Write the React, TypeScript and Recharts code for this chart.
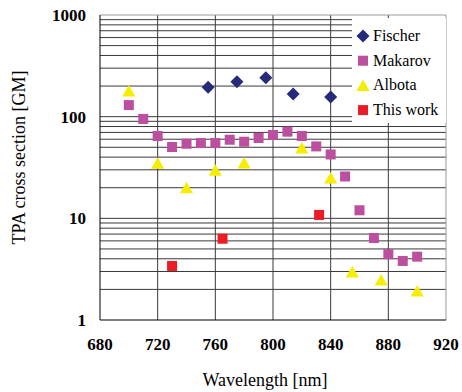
import React from 'react';
import { ScatterChart, Scatter, XAxis, YAxis, ReferenceLine, Legend, Label } from 'recharts';

const FONT = 'Liberation Serif';

const xTicks = [680, 720, 760, 800, 840, 880, 920];
const yTicks = [1, 10, 100, 1000];
const horizontalGrid = [2, 3, 4, 5, 6, 7, 8, 9, 10, 20, 30, 40, 50, 60, 70, 80, 90, 100, 200, 300, 400, 500, 600, 700, 800, 900];
const verticalGrid = [720, 760, 800, 840, 880];

const seriesNames = ['Fischer', 'Makarov', 'Albota', 'This work'];
const seriesColors = ['#252A7A', '#BC4F9F', '#F5EE00', '#EC1C24'];
const seriesTypes = ['diamond', 'square', 'triangle', 'square'];

const fischerNm = [755, 775, 795, 814, 840];
const fischerGM = [195, 221, 242, 167, 156];

const makarovNm = [700, 710, 720, 730, 740, 750, 760, 770, 780, 790, 800, 810, 820, 830, 840, 850, 860, 870, 880, 890, 900];
const makarovGM = [130, 95, 64.5, 50.3, 54.2, 55, 55, 59.3, 56.7, 61.7, 66, 71.2, 64.5, 51, 42.5, 25.8, 12.0, 6.4, 4.44, 3.81, 4.2];

const albotaNm = [700, 720, 740, 760, 780, 820, 840, 855, 875, 900];
const albotaGM = [179, 34.8, 20, 29.7, 35, 49.2, 25, 2.97, 2.48, 1.93];

const thisWorkNm = [730, 765, 832];
const thisWorkGM = [3.4, 6.3, 10.8];

const toPoints = (xs: number[], ys: number[]) => xs.map((x, i) => ({ x, y: ys[i] }));

const fischerData = toPoints(fischerNm, fischerGM);
const makarovData = toPoints(makarovNm, makarovGM);
const albotaData = toPoints(albotaNm, albotaGM);
const thisWorkData = toPoints(thisWorkNm, thisWorkGM);

function drawMarker(type: string, cx: number, cy: number, fill: string, key?: string) {
  if (type === 'diamond') {
    const r = 6.5;
    return <polygon key={key} points={`${cx},${cy - r} ${cx + r},${cy} ${cx},${cy + r} ${cx - r},${cy}`} fill={fill} />;
  }
  if (type === 'triangle') {
    return <polygon key={key} points={`${cx},${cy - 6} ${cx + 6.5},${cy + 5.5} ${cx - 6.5},${cy + 5.5}`} fill={fill} />;
  }
  return <rect key={key} x={cx - 5} y={cy - 5} width={10} height={10} fill={fill} />;
}

const makeShape = (type: string, fill: string) => (props: any) => {
  if (props.cx == null || props.cy == null) return <g />;
  return drawMarker(type, props.cx, props.cy, fill);
};

const LegendBox = (props: any) => {
  const payload = [...(props.payload || [])].sort(
    (a: any, b: any) => seriesNames.indexOf(a.value) - seriesNames.indexOf(b.value)
  );
  return (
    <svg width={94} height={105} style={{ display: 'block' }}>
      <rect x={0} y={0} width={94} height={105} fill="#fff" stroke="none" />
      {payload.map((entry: any, i: number) => {
        const idx = seriesNames.indexOf(entry.value);
        const type = idx >= 0 ? seriesTypes[idx] : entry.type;
        const color = idx >= 0 ? seriesColors[idx] : entry.color;
        const cy = 18 + i * 24.7;
        return (
          <g key={entry.value}>
            {drawMarker(type, 11, cy, color)}
            <text x={21} y={cy + 5} fontFamily={FONT} fontSize={16} style={{ fontFamily: FONT, fontSize: 16 }} fill="#000">
              {entry.value}
            </text>
          </g>
        );
      })}
    </svg>
  );
};

const YTitle = (props: any) => {
  const vb = props.viewBox || { x: 0, y: 15, width: 100, height: 305 };
  const cx = vb.x + 19;
  const cy = vb.y + vb.height / 2 - 10;
  return (
    <text
      x={cx}
      y={cy}
      transform={`rotate(-90, ${cx}, ${cy})`}
      textAnchor="middle"
      dominantBaseline="central"
      fontFamily={FONT}
      fontSize={18}
      style={{ fontFamily: FONT, fontSize: 18 }}
      fill="#000"
    >
      TPA cross section [GM]
    </text>
  );
};

const XTitle = (props: any) => {
  const vb = props.viewBox || { x: 100, y: 320, width: 346, height: 72 };
  const cx = vb.x + vb.width / 2 - 8;
  const y = vb.y + 66;
  return (
    <text x={cx} y={y} textAnchor="middle" fontFamily={FONT} fontSize={18} style={{ fontFamily: FONT, fontSize: 18 }} fill="#000">
      Wavelength [nm]
    </text>
  );
};

const XTick = (props: any) => {
  const { x, y, payload } = props;
  return (
    <text x={x} y={y + 30} textAnchor="middle" fontFamily={FONT} fontSize={17} fontWeight="bold" style={{ fontFamily: FONT, fontSize: 17, fontWeight: 700 }} fill="#000">
      {payload.value}
    </text>
  );
};

const YTick = (props: any) => {
  const { x, y, payload } = props;
  return (
    <text x={x} y={y + 6} textAnchor="end" fontFamily={FONT} fontSize={17} fontWeight="bold" style={{ fontFamily: FONT, fontSize: 17, fontWeight: 700 }} fill="#000">
      {payload.value}
    </text>
  );
};

export default function App() {
  return (
    <div style={{ position: 'absolute', left: 0, top: 0, background: '#fff', fontFamily: FONT }}>
      <ScatterChart width={462} height={392} margin={{ top: 15, right: 16, bottom: 0, left: 0 }} style={{ fontFamily: FONT }}>
        <XAxis
          type="number"
          dataKey="x"
          domain={[680, 920]}
          ticks={xTicks}
          allowDataOverflow
          height={72}
          tickLine={false}
          tickSize={0}
          tickMargin={0}
          axisLine={{ stroke: '#000', strokeWidth: 1 }}
          tick={XTick}
          interval={0}
        >
          <Label content={XTitle} />
        </XAxis>
        <YAxis
          type="number"
          dataKey="y"
          scale="log"
          domain={[1, 1000]}
          ticks={yTicks}
          allowDataOverflow
          width={100}
          tickLine={false}
          tickSize={0}
          tickMargin={14}
          axisLine={{ stroke: '#000', strokeWidth: 1 }}
          tick={YTick}
          interval={0}
        >
          <Label content={YTitle} />
        </YAxis>
        {horizontalGrid.map((v) => (
          <ReferenceLine key={`h${v}`} y={v} stroke="#3a3a3a" strokeWidth={1} />
        ))}
        {verticalGrid.map((v) => (
          <ReferenceLine key={`v${v}`} x={v} stroke="#3a3a3a" strokeWidth={1} />
        ))}
        <ReferenceLine y={1000} stroke="#9a9a9a" strokeWidth={1} />
        <ReferenceLine x={920} stroke="#9a9a9a" strokeWidth={1} />
        <Legend
          layout="vertical"
          align="center"
          verticalAlign="middle"
          content={LegendBox}
          wrapperStyle={{ left: 352, top: 18, width: 94, height: 105 }}
        />
        <Scatter name={seriesNames[0]} data={fischerData} fill={seriesColors[0]} legendType="diamond" shape={makeShape('diamond', seriesColors[0])} isAnimationActive={false} />
        <Scatter name={seriesNames[1]} data={makarovData} fill={seriesColors[1]} legendType="square" shape={makeShape('square', seriesColors[1])} isAnimationActive={false} />
        <Scatter name={seriesNames[2]} data={albotaData} fill={seriesColors[2]} legendType="triangle" shape={makeShape('triangle', seriesColors[2])} isAnimationActive={false} />
        <Scatter name={seriesNames[3]} data={thisWorkData} fill={seriesColors[3]} legendType="square" shape={makeShape('square', seriesColors[3])} isAnimationActive={false} />
      </ScatterChart>
    </div>
  );
}
